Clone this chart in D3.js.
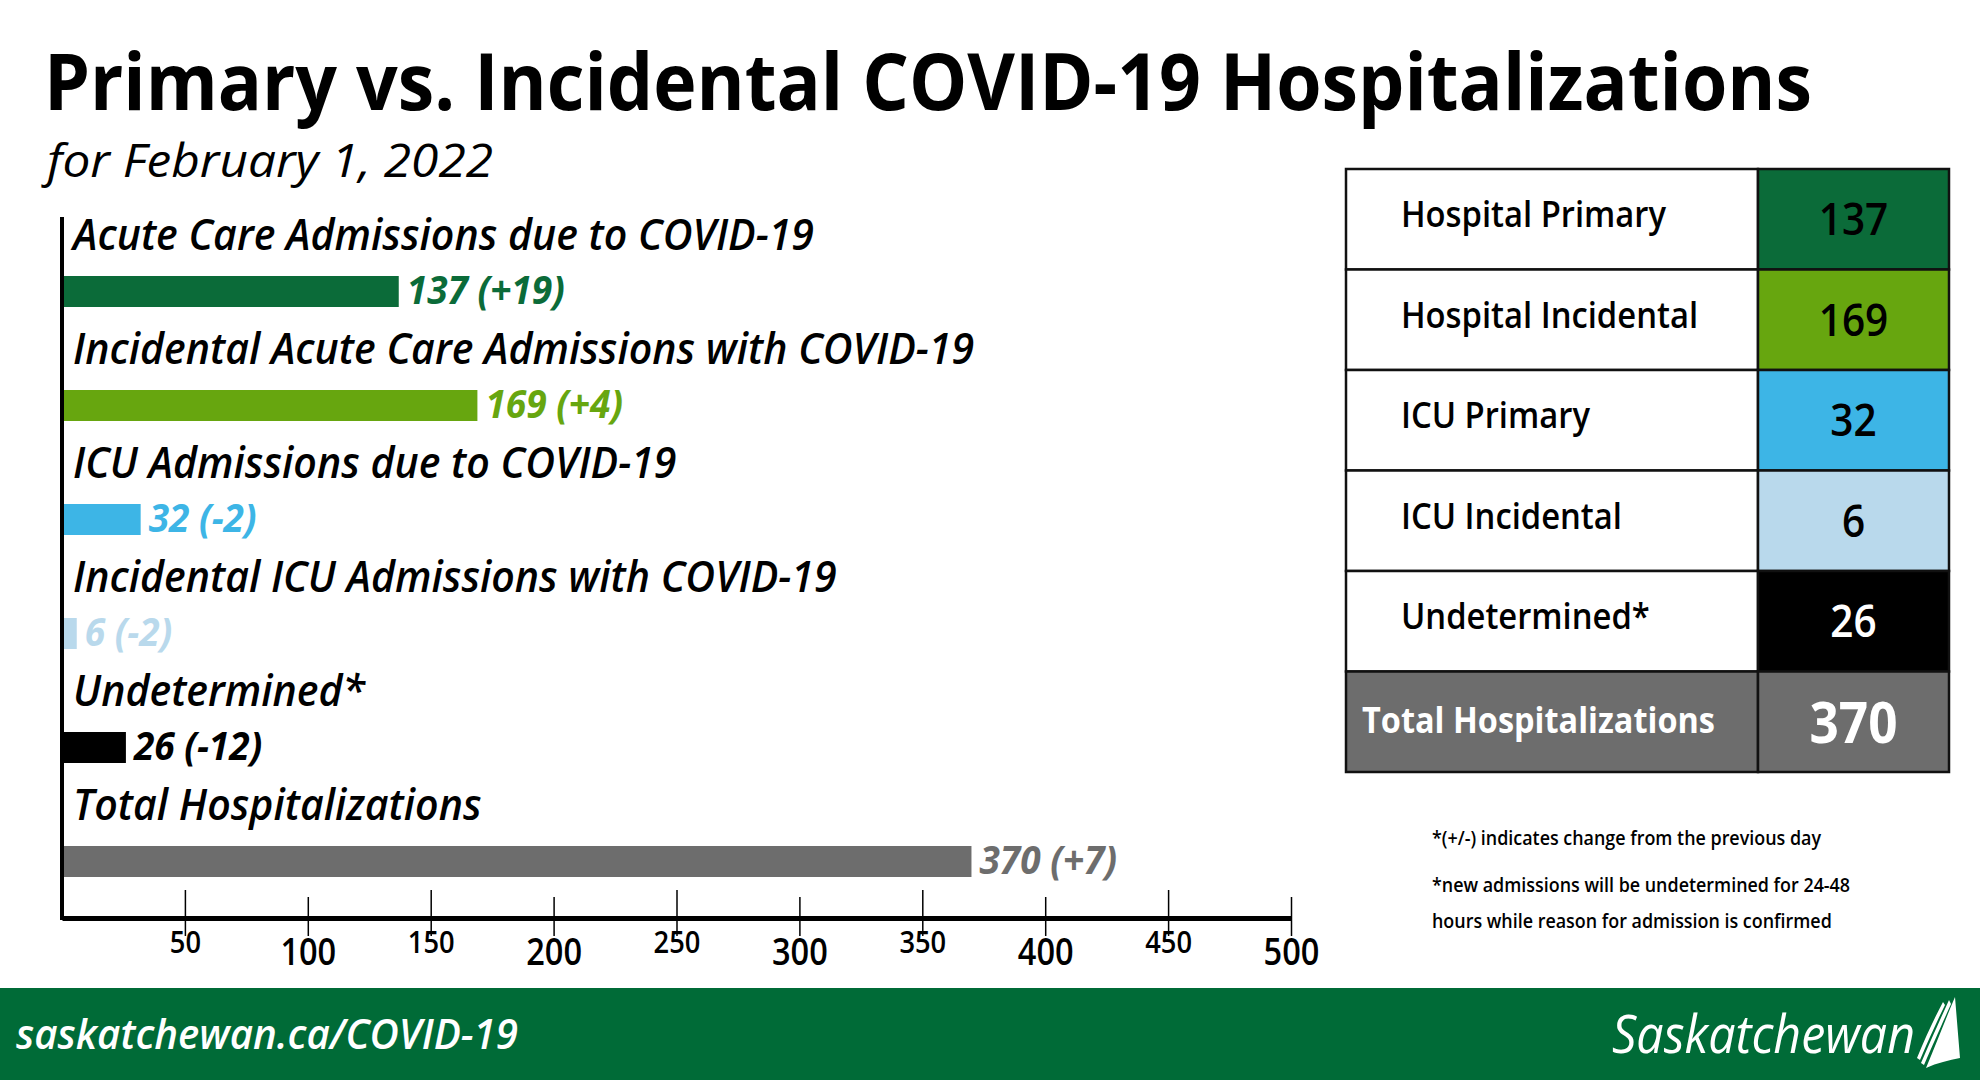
<!DOCTYPE html>
<html>
<head>
<meta charset="utf-8">
<script src="https://cdn.jsdelivr.net/npm/d3@7"></script>
<style>
  body { margin: 0; background: #fff; }
  text { font-family: "Open Sans", "Noto Sans", sans-serif; }
</style>
</head>
<body>
<script>
// chart values
var categories = [
    "Acute Care Admissions due to COVID-19",
    "Incidental Acute Care Admissions with COVID-19",
    "ICU Admissions due to COVID-19",
    "Incidental ICU Admissions with COVID-19",
    "Undetermined*",
    "Total Hospitalizations"
];
var values = [137, 169, 32, 6, 26, 370];
var changes = ["+19", "+4", "-2", "-2", "-12", "+7"];

var tableLabels = ["Hospital Primary", "Hospital Incidental", "ICU Primary", "ICU Incidental", "Undetermined*", "Total Hospitalizations"];
var tableValues = [137, 169, 32, 6, 26, 370];

var xTicks = [50, 100, 150, 200, 250, 300, 350, 400, 450, 500];

var footnotes = [
    "*(+/-) indicates change from the previous day",
    "*new admissions will be undetermined for 24-48",
    "hours while reason for admission is confirmed"
];

var palette = ["#0b6b39", "#67a60f", "#3db5e6", "#b9d9ec", "#000000", "#6d6d6d"];

var width = 1980, height = 1080;

var svg = d3.select("body").append("svg")
    .attr("width", width)
    .attr("height", height);

//squeeze text so it runs as narrow as the original typeface
function squeeze(sel, k) {
    sel.each(function() {
        var w = this.getComputedTextLength();
        d3.select(this).attr("textLength", w * k).attr("lengthAdjust", "spacingAndGlyphs");
    });
}
function ratio(sel, target) {
    return target / sel.node().getComputedTextLength();
}

//title
var title = svg.append("text")
    .attr("x", 44).attr("y", 110)
    .attr("font-size", 79).attr("font-weight", 700)
    .text("Primary vs. Incidental COVID-19 Hospitalizations");
squeeze(title, ratio(title, 1768));

var sub = svg.append("text")
    .attr("x", 47).attr("y", 177)
    .attr("font-size", 45).attr("font-style", "italic")
    .text("for February 1, 2022");
squeeze(sub, ratio(sub, 446));

//bar chart
var x = d3.scaleLinear()
    .domain([0, 500])
    .range([62, 1291]);

var y = d3.scaleBand()
    .domain(categories)
    .range([232, 916]);

var color = d3.scaleOrdinal()
    .domain(categories)
    .range(palette);

var data = categories.map((c, i) => ({name: c, value: values[i], change: changes[i]}));

var rows = svg.append("g").selectAll("g").data(data).enter().append("g");

rows.append("rect")
    .attr("x", x(0))
    .attr("y", d => y(d.name) + 44)
    .attr("width", d => x(d.value) - x(0))
    .attr("height", 31)
    .attr("fill", d => color(d.name));

var labels = rows.append("text")
    .attr("x", 73)
    .attr("y", d => y(d.name) + 18)
    .attr("font-size", 43)
    .attr("font-style", "italic")
    .attr("font-weight", 600)
    .text(d => d.name);
squeeze(labels, ratio(labels.filter((d, i) => i == 0), 741));

var valueLabels = rows.append("text")
    .attr("x", d => x(d.value) + 8)
    .attr("y", d => y(d.name) + 44 + 15.5 + 12)
    .attr("font-size", 39)
    .attr("font-style", "italic")
    .attr("font-weight", 700)
    .attr("fill", d => color(d.name))
    .text(d => d.value + " (" + d.change + ")");
squeeze(valueLabels, ratio(valueLabels.filter((d, i) => i == 0), 158));

//y axis line
svg.append("line")
    .attr("x1", x(0)).attr("x2", x(0))
    .attr("y1", 217).attr("y2", 920)
    .attr("stroke", "#000").attr("stroke-width", 4);

//x axis
var xAxis = g => g
    .attr("transform", "translate(0,918)")
    .call(d3.axisBottom(x)
        .tickValues(xTicks)
        .tickSize(18)
        .tickSizeOuter(0)
        .tickFormat(d3.format("d")));

var gx = svg.append("g").call(xAxis);

gx.select(".domain")
    .attr("stroke", "#000")
    .attr("stroke-width", 5);

gx.selectAll(".tick line")
    .attr("y1", (d, i) => i % 2 == 0 ? -28 : -21)
    .attr("stroke", "#000")
    .attr("stroke-width", 1.5);

gx.selectAll(".tick text")
    .attr("y", (d, i) => i % 2 == 0 ? 35 : 47)
    .attr("dy", 0)
    .attr("fill", "#000")
    .attr("font-family", "Open Sans")
    .attr("font-weight", 600)
    .attr("font-size", (d, i) => i % 2 == 0 ? 31 : 37)
    .each(function() {
        d3.select(this).attr("textLength", this.getComputedTextLength() * 0.88)
            .attr("lengthAdjust", "spacingAndGlyphs");
    });

//summary table
var tx = d3.scaleBand()
    .domain(["label", "value"])
    .range([1346, 1949]);

var ty = d3.scaleBand()
    .domain(tableLabels)
    .range([169, 772]);

var cellColor = d3.scaleOrdinal()
    .domain(tableLabels)
    .range(palette);

var tdata = tableLabels.map((t, i) => ({name: t, value: tableValues[i], last: i == tableLabels.length - 1}));
var divider = 1758;

var trows = svg.append("g").selectAll("g").data(tdata).enter().append("g");

trows.append("rect")
    .attr("x", tx.range()[0])
    .attr("y", d => ty(d.name))
    .attr("width", divider - tx.range()[0])
    .attr("height", ty.bandwidth())
    .attr("fill", d => d.last ? "#6d6d6d" : "#fff")
    .attr("stroke", "#111").attr("stroke-width", 2.5);

trows.append("rect")
    .attr("x", divider)
    .attr("y", d => ty(d.name))
    .attr("width", tx.range()[1] - divider)
    .attr("height", ty.bandwidth())
    .attr("fill", d => cellColor(d.name))
    .attr("stroke", "#111").attr("stroke-width", 2.5);

var tlabels = trows.append("text")
    .attr("x", d => d.last ? 1362 : 1401)
    .attr("y", d => ty(d.name) + ty.bandwidth() / 2 + (d.last ? 11 : 8))
    .attr("font-size", 36)
    .attr("font-weight", d => d.last ? 700 : 600)
    .attr("fill", d => d.last ? "#fff" : "#000")
    .text(d => d.name);
var kt = ratio(tlabels.filter((d, i) => i == 0), 265);
squeeze(tlabels.filter(d => !d.last), kt);
squeeze(tlabels.filter(d => d.last), ratio(tlabels.filter(d => d.last), 353));

var tvalues = trows.append("text")
    .attr("x", (divider + tx.range()[1]) / 2)
    .attr("y", d => ty(d.name) + ty.bandwidth() / 2 + (d.last ? 21 : 16))
    .attr("text-anchor", "middle")
    .attr("font-size", d => d.last ? 57 : 45)
    .attr("font-weight", d => d.last ? 700 : 600)
    .attr("fill", d => (d.last || d.name == "Undetermined*") ? "#fff" : "#000")
    .text(d => d.value);
squeeze(tvalues, 0.9);

//footnotes
var notes = svg.append("g").selectAll("text").data(footnotes).enter().append("text")
    .attr("x", 1432)
    .attr("y", (d, i) => [845, 892, 928][i])
    .attr("font-size", 19)
    .attr("font-weight", 600)
    .text(d => d);
squeeze(notes, ratio(notes.filter((d, i) => i == 0), 389));

//footer band
svg.append("rect")
    .attr("x", 0).attr("y", 988)
    .attr("width", width).attr("height", height - 988)
    .attr("fill", "#006b37");

var url = svg.append("text")
    .attr("x", 16).attr("y", 1049)
    .attr("font-size", 41)
    .attr("font-style", "italic")
    .attr("font-weight", 600)
    .attr("fill", "#fff")
    .text("saskatchewan.ca/COVID-19");
squeeze(url, ratio(url, 502));

var brand = svg.append("text")
    .attr("x", 1612).attr("y", 1053)
    .attr("font-size", 53)
    .attr("font-style", "italic")
    .attr("font-weight", 400)
    .attr("fill", "#fff")
    .text("Saskatchewan");
squeeze(brand, ratio(brand, 303));

//wheat / sail mark next to the wordmark
var logo = svg.append("g").attr("fill", "#fff");
logo.append("path")
    .attr("d", "M1926,1068 C1937,1042 1946,1018 1955,997 L1960,1058 C1949,1060 1937,1063 1926,1068 Z");
logo.append("path")
    .attr("d", "M1917,1058 C1926,1036 1934,1019 1943,1002 L1945,1005 C1937,1021 1929,1039 1920,1060 Z");
logo.append("path")
    .attr("d", "M1921,1063 C1931,1040 1939,1022 1949,1000 L1951,1004 C1942,1024 1934,1042 1924,1065 Z");
</script>
</body>
</html>
